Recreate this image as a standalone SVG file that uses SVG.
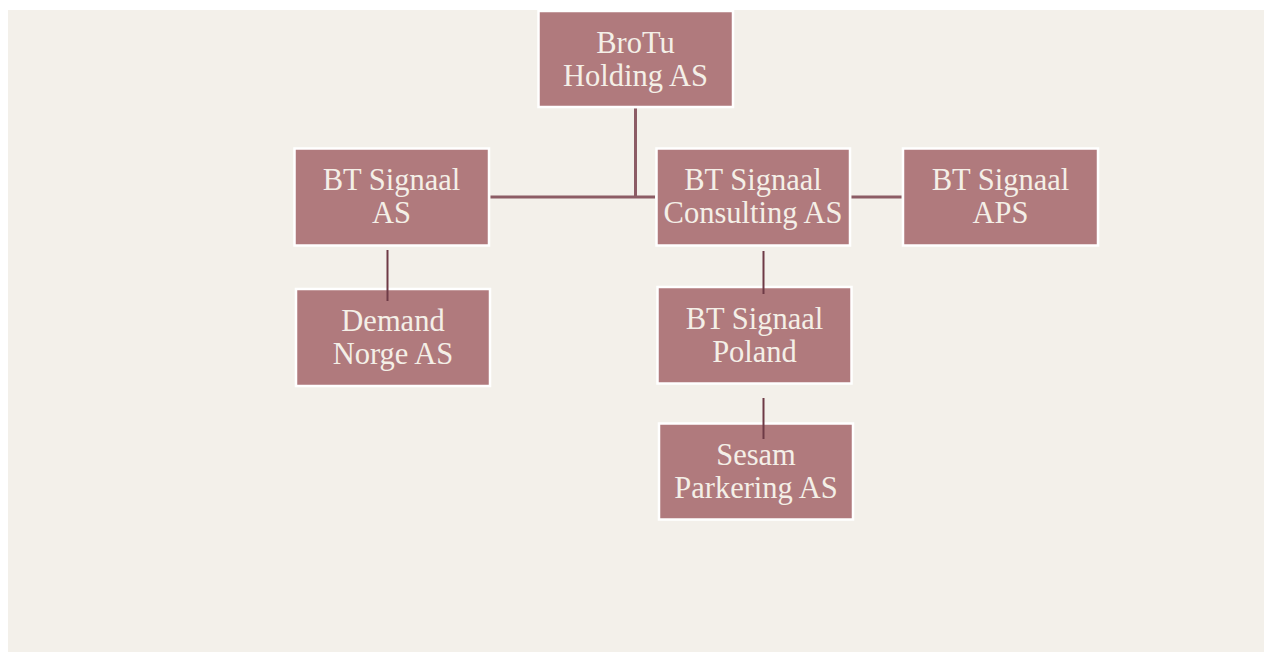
<svg xmlns="http://www.w3.org/2000/svg" width="1264" height="652" viewBox="0 0 1264 652">
<style>
.box{fill:#B07A7D;stroke:#FFFFFF;stroke-width:2.5}
.lbl{font-family:"Liberation Serif","Times New Roman",serif;font-size:30.5px;fill:#F4EFE7;text-anchor:middle}
.hl{stroke:#8C5C65;stroke-width:3;fill:none}
.vl{stroke:#6E3A46;stroke-width:2;fill:none}
</style>
<rect x="0" y="0" width="1264" height="652" fill="#FFFFFF"/>
<rect x="8" y="10" width="1256" height="642" fill="#F3F0EA"/>
<g id="brotu">
<rect class="box" x="538.5" y="11" width="194.5" height="96"/>
<text class="lbl" x="635.5" y="53">BroTu</text>
<text class="lbl" x="635.5" y="86">Holding AS</text>
</g>
<g id="bt-signaal-as">
<rect class="box" x="294.5" y="148.5" width="194.5" height="97"/>
<text class="lbl" x="391.5" y="190">BT Signaal</text>
<text class="lbl" x="391.5" y="223">AS</text>
</g>
<g id="bt-signaal-consulting">
<rect class="box" x="656.5" y="148.5" width="193.5" height="97"/>
<text class="lbl" x="753" y="190">BT Signaal</text>
<text class="lbl" x="753" y="223">Consulting AS</text>
</g>
<g id="bt-signaal-aps">
<rect class="box" x="903" y="148.5" width="195" height="97"/>
<text class="lbl" x="1000.5" y="190">BT Signaal</text>
<text class="lbl" x="1000.5" y="223">APS</text>
</g>
<g id="demand-norge">
<rect class="box" x="296" y="289" width="194" height="97"/>
<text class="lbl" x="393" y="331">Demand</text>
<text class="lbl" x="393" y="364">Norge AS</text>
</g>
<g id="bt-signaal-poland">
<rect class="box" x="657.5" y="287" width="194" height="96.5"/>
<text class="lbl" x="754.5" y="329">BT Signaal</text>
<text class="lbl" x="754.5" y="362">Poland</text>
</g>
<g id="sesam-parkering">
<rect class="box" x="659" y="423.5" width="194" height="96"/>
<text class="lbl" x="756" y="465">Sesam</text>
<text class="lbl" x="756" y="498">Parkering AS</text>
</g>
<g id="connectors">
<path class="hl" d="M635.5 108.5 V197"/>
<path class="hl" d="M490.5 197 H655"/>
<path class="hl" d="M851.5 197 H901.5"/>
<path class="vl" d="M387.5 250 V301"/>
<path class="vl" d="M763.5 251 V294"/>
<path class="vl" d="M763.5 398 V439"/>
</g>
</svg>
